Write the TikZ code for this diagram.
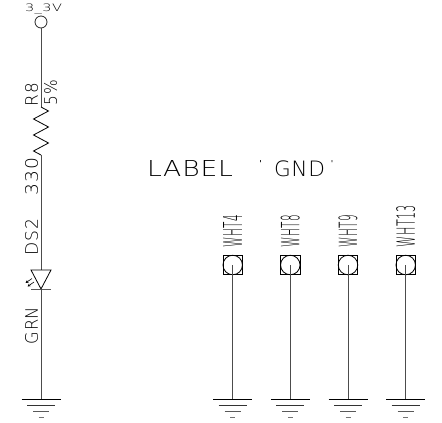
\documentclass[tikz,border=0pt]{standalone}
\usepackage{graphicx}
\usepackage{fontspec}
\usetikzlibrary{arrows.meta}
\newfontfamily\stfont[LetterSpace=3]{DejaVu Sans ExtraLight}
\newcommand{\fit}[3]{\resizebox*{#1pt}{#2pt}{\stfont #3}}
\tikzset{
  wire/.style={line width=1pt,draw=black!70},
  txt/.style={inner sep=0pt,outer sep=0pt,text=black},
  vtxt/.style={txt,rotate=90},
  padbox/.style={draw=black,line width=0.8pt,minimum size=19.5pt,inner sep=0pt,outer sep=0pt},
  padcirc/.style={circle,draw=black,line width=0.8pt,minimum size=19.5pt,inner sep=0pt,outer sep=0pt},
  gndsym/.pic={
    \draw[line width=0.8pt] (-19.5,0) -- (19.5,0);
    \draw[line width=0.8pt,draw=black!80] (-14,6) -- (14,6);
    \draw[line width=0.8pt,draw=black!65] (-8,12) -- (8,12);
    \draw[line width=0.8pt,draw=black!55] (-2.5,18) -- (2.5,18);
  },
  ledarrow/.style={line width=0.6pt,-{Stealth[length=3pt,width=3pt]}}
}
\begin{document}
\begin{tikzpicture}[x=1pt,y=-1pt]
\useasboundingbox (0,0) rectangle (442,423);
% left chain
\node[circle,draw=black!85,line width=0.8pt,minimum size=12pt,inner sep=0pt,outer sep=0pt] (vcc) at (41,22) {};
\node[txt] (vcclabel) at (43.5,9) {\fit{37}{10}{3\_3V}};
\coordinate (rtop) at (41,107);
\coordinate (rbot) at (41,155);
\coordinate (ledtop) at (41,270);
\coordinate (ledtip) at (41,289);
\coordinate (gnd0) at (41,399);
\draw[wire] (vcc) -- (rtop);
\draw[line width=0.8pt,line join=miter] (rtop) -- (48.5,111) -- (33.5,119) -- (48.5,127) -- (33.5,135) -- (48.5,143) -- (33.5,151) -- (rbot);
\draw[wire] (rbot) -- (ledtop);
\draw[line width=0.8pt] (31,270) -- (51,270) -- (ledtip) -- cycle;
\draw[line width=0.8pt,draw=black!65] (31,289) -- (51,289);
\draw[wire] (ledtip) -- (gnd0);
\pic at (gnd0) {gndsym};
\coordinate (a1s) at (32,278.5);
\coordinate (a1e) at (25.5,283);
\coordinate (a2s) at (34,282);
\coordinate (a2e) at (27.5,286.5);
\draw[ledarrow] (a1s) -- (a1e);
\draw[ledarrow] (a2s) -- (a2e);
\node[vtxt] (r8) at (31.5,94.5) {\fit{23}{13}{R8}};
\node[vtxt] (r8v) at (50.5,92.5) {\fit{25}{13}{5\%}};
\node[vtxt] (val) at (31.5,176.5) {\fit{37}{13}{330}};
\node[vtxt] (ds2) at (31.5,237) {\fit{36}{13}{DS2}};
\node[vtxt] (grn) at (31.5,325.5) {\fit{37}{13}{GRN}};
% caption
\node[txt,anchor=south west] (cap) at (147,177) {\fit{86}{16}{LABEL}\hspace{25pt}\raisebox{10pt}{\fit{5}{6}{'}}\hspace{11pt}\fit{51}{16}{GND}\hspace{5pt}\raisebox{10pt}{\fit{4}{6}{'}}};
% test points
\foreach \nm/\xx in {a/232.7, b/290.3, c/348, d/405.7}{
  \node[padbox] (pad\nm) at (\xx,265) {};
  \node[padcirc] (cir\nm) at (\xx,265) {};
  \coordinate (gnd\nm) at (\xx,399);
  \draw[wire] (cir\nm.center) -- (gnd\nm);
  \pic at (gnd\nm) {gndsym};
}
\node[vtxt] (ta) at (232.7,231) {\fit{32}{19}{WHT4}};
\node[vtxt] (tb) at (290.3,231) {\fit{32}{19}{WHT8}};
\node[vtxt] (tc) at (348,231) {\fit{32}{19}{WHT9}};
\node[vtxt] (td) at (405.7,226) {\fit{42}{19}{WHT13}};
\end{tikzpicture}
\end{document}
